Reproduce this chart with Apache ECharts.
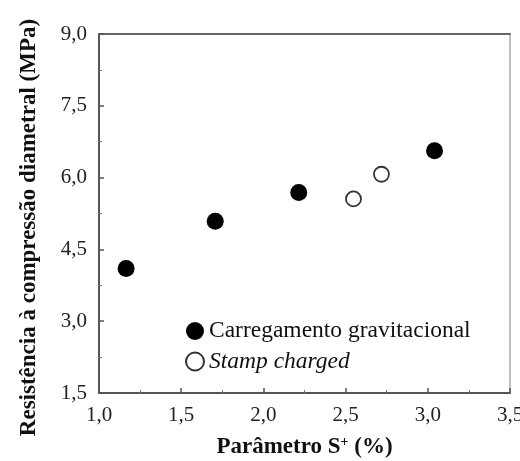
<!DOCTYPE html>
<html><head><meta charset="utf-8">
<script src="https://cdn.jsdelivr.net/npm/echarts@6/dist/echarts.min.js"></script>
<style>html,body{margin:0;padding:0;background:#fff}#c{width:520px;height:461px}</style>
</head><body><div id="c"></div>
<script>
const gravX = [1.165, 1.707, 2.215, 3.041];
const gravY = [4.10, 5.09, 5.69, 6.56];
const stampX = [2.548, 2.718];
const stampY = [5.555, 6.07];
const xTicks = ['1,0','1,5','2,0','2,5','3,0','3,5'];
const yTicks = ['1,5','3,0','4,5','6,0','7,5','9,0'];
const seriesNames = ['Carregamento gravitacional', 'Stamp charged'];

const FONT = '"Liberation Serif","Times New Roman",serif';
const fmt = v => v.toFixed(1).replace('.', ',');

const chart = echarts.init(document.getElementById('c'));
chart.setOption({
  animation: false,
  backgroundColor: '#fff',
  grid: { left: 99, right: 10, top: 34, bottom: 68, outerBoundsMode: 'none', containLabel: false },
  legend: {
    orient: 'vertical', left: 180, top: 314, itemGap: 7,
    itemWidth: 18, itemHeight: 18, icon: 'circle',
    data: seriesNames,
    formatter: n => n === 'Stamp charged' ? '{i|' + n + '}' : n,
    textStyle: { fontFamily: FONT, fontSize: 23.5, color: '#111',
      rich: { i: { fontFamily: FONT, fontSize: 23.5, fontStyle: 'italic', color: '#111' } } }
  },
  xAxis: [{
    type: 'value', min: 1.0, max: 3.5, interval: 0.5,
    name: 'Parâmetro S{s|+} (%)', nameLocation: 'middle', nameGap: 42,
    nameTextStyle: { fontFamily: FONT, fontSize: 23, fontWeight: 'bold', color: '#111',
      rich: { s: { fontFamily: FONT, fontSize: 14, fontWeight: 'bold', color: '#111', verticalAlign: 'top', padding: [0,0,10,0] } } },
    axisLine: { show: true, lineStyle: { color: '#555', width: 2 } },
    axisTick: { show: true, inside: true, length: 5, lineStyle: { color: '#555', width: 1.5 } },
    minorTick: { show: true, splitNumber: 2, length: 3, lineStyle: { color: '#777', width: 1 } },
    splitLine: { show: false },
    axisLabel: { fontFamily: FONT, fontSize: 21, color: '#222', margin: 12,
      formatter: v => xTicks[Math.round((v - 1.0) / 0.5)] ?? fmt(v) }
  }, {
    type: 'value', position: 'top', min: 1.0, max: 3.5,
    axisLine: { show: true, lineStyle: { color: '#666', width: 2 } },
    axisTick: { show: false }, axisLabel: { show: false }, splitLine: { show: false }
  }],
  yAxis: [{
    type: 'value', min: 1.5, max: 9.0, interval: 1.5,
    name: 'Resistência à compressão diametral (MPa)', nameLocation: 'middle', nameGap: 58,
    nameTextStyle: { fontFamily: FONT, fontSize: 23, fontWeight: 'bold', color: '#111', padding: [0, 28, 0, 0] },
    axisLine: { show: true, lineStyle: { color: '#555', width: 2 } },
    axisTick: { show: true, inside: true, length: 5, lineStyle: { color: '#555', width: 1.5 } },
    minorTick: { show: true, splitNumber: 2, length: 3, lineStyle: { color: '#777', width: 1 } },
    splitLine: { show: false },
    axisLabel: { fontFamily: FONT, fontSize: 21, color: '#222', margin: 12,
      formatter: v => yTicks[Math.round((v - 1.5) / 1.5)] ?? fmt(v) }
  }, {
    type: 'value', position: 'right', min: 1.5, max: 9.0,
    axisLine: { show: true, lineStyle: { color: '#aaa', width: 1.5 } },
    axisTick: { show: false }, axisLabel: { show: false }, splitLine: { show: false }
  }],
  series: [{
    name: seriesNames[0], type: 'scatter', symbol: 'circle', symbolSize: 17,
    itemStyle: { color: '#000', opacity: 1 },
    data: gravX.map((x, i) => [x, gravY[i]])
  }, {
    name: seriesNames[1], type: 'scatter', symbol: 'circle', symbolSize: 15,
    itemStyle: { color: '#fff', borderColor: '#333', borderWidth: 1.8, opacity: 1 },
    data: stampX.map((x, i) => [x, stampY[i]])
  }]
});
</script></body></html>
